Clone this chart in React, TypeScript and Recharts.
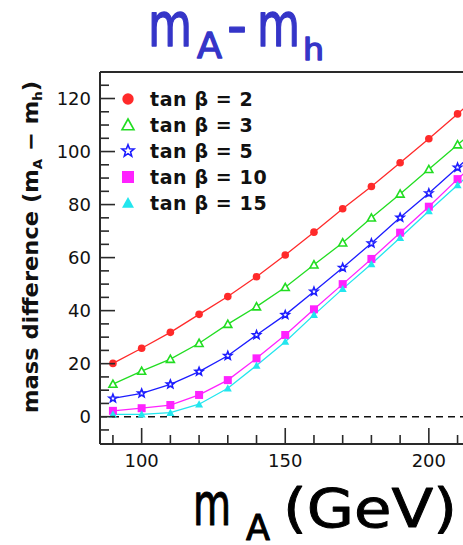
import React from "react";
import { LineChart, Line, XAxis, YAxis, ReferenceLine, Legend } from "recharts";

// m_A values (GeV)
const massA = [90, 100, 110, 120, 130, 140, 150, 160, 170, 180, 190, 200, 210, 220];

// mass difference m_A - m_h for each tan beta
const tanBeta2 = [20.1, 25.8, 31.8, 38.6, 45.3, 52.8, 61.0, 69.6, 78.4, 86.8, 95.8, 104.8, 114.2, 123.5];
const tanBeta3 = [12.3, 17.2, 21.7, 27.7, 34.9, 41.5, 48.8, 57.3, 65.6, 75.0, 84.0, 93.3, 102.6, 111.8];
const tanBeta5 = [6.9, 8.8, 12.2, 17.0, 23.0, 30.8, 38.4, 47.2, 56.2, 65.4, 75.1, 84.3, 94.0, 103.5];
const tanBeta10 = [2.2, 3.2, 4.4, 8.2, 13.8, 22.0, 30.8, 40.5, 50.0, 59.5, 69.4, 79.2, 89.6, 99.6];
const tanBeta15 = [0.9, 0.9, 1.5, 4.7, 10.7, 19.3, 28.3, 38.4, 48.2, 57.6, 67.5, 77.6, 87.4, 97.2];

const seriesNames = ["tan β = 2", "tan β = 3", "tan β = 5", "tan β = 10", "tan β = 15"];

const xTicks = [90, 100, 110, 120, 130, 140, 150, 160, 170, 180, 190, 200, 210, 220];
const yTicks = [-5, 0, 5, 10, 15, 20, 25, 30, 35, 40, 45, 50, 55, 60, 65, 70, 75, 80, 85, 90, 95, 100, 105, 110, 115, 120, 125];

const data = massA.map((m, i) => ({
  m,
  t2: tanBeta2[i],
  t3: tanBeta3[i],
  t5: tanBeta5[i],
  t10: tanBeta10[i],
  t15: tanBeta15[i],
}));

const series = [
  { key: "t2", color: "#ff2a2a", shape: "circle" },
  { key: "t3", color: "#22dd22", shape: "openTriangle" },
  { key: "t5", color: "#1c1cff", shape: "star" },
  { key: "t10", color: "#ff22ff", shape: "square" },
  { key: "t15", color: "#22e6ee", shape: "triangle" },
];

const axisColor = "#2a2a2a";
const tickFont = "'DejaVu Sans', sans-serif";
const titleBlue = "#3535c8";

function Marker({ shape, color, x, y, s }: { shape: string; color: string; x: number; y: number; s: number }) {
  const h = s / 2;
  if (shape === "circle") return <circle cx={x} cy={y} r={h * 0.95} fill={color} />;
  if (shape === "square") return <rect x={x - h} y={y - h} width={s} height={s} fill={color} />;
  if (shape === "triangle" || shape === "openTriangle") {
    const pts = `${x},${y - h} ${x + h},${y + h * 0.8} ${x - h},${y + h * 0.8}`;
    return shape === "triangle" ? (
      <polygon points={pts} fill={color} />
    ) : (
      <polygon points={pts} fill="#fff" stroke={color} strokeWidth={1.6} />
    );
  }
  // star
  const pts: string[] = [];
  for (let k = 0; k < 10; k++) {
    const r = k % 2 === 0 ? h * 1.05 : h * 0.45;
    const a = -Math.PI / 2 + (k * Math.PI) / 5;
    pts.push(`${x + r * Math.cos(a)},${y + r * Math.sin(a)}`);
  }
  return <polygon points={pts.join(" ")} fill="#fff" stroke={color} strokeWidth={1.6} />;
}

const makeDot = (shape: string, color: string) => (props: any) => {
  const { cx, cy, index } = props;
  if (cx == null || cy == null) return <g key={index} />;
  return <Marker key={index} shape={shape} color={color} x={cx} y={cy} s={8} />;
};

const XTick = (props: any) => {
  const { x, y, payload } = props;
  const major = payload.value % 50 === 0;
  return (
    <g>
      <line x1={x} x2={x} y1={y} y2={y - (major ? 16 : 9)} stroke={axisColor} strokeWidth={1.6} />
      {major && (
        <text x={x} y={y + 23} textAnchor="middle" fontFamily={tickFont} fontSize={18} fill="#111">
          {payload.value}
        </text>
      )}
    </g>
  );
};

const YTick = (props: any) => {
  const { x, y, payload } = props;
  const v = payload.value;
  const major = v % 20 === 0 && v >= 0;
  return (
    <g>
      <line x1={x} x2={x + (major ? 15 : 9)} y1={y} y2={y} stroke={axisColor} strokeWidth={1.6} />
      {major && (
        <text x={x - 9} y={y + 6.5} textAnchor="end" fontFamily={tickFont} fontSize={18} fill="#111">
          {v}
        </text>
      )}
    </g>
  );
};

const LegendBox = () => (
  <svg width={200} height={140}>
    {series.map((s, i) => {
      const cy = 14 + i * 26;
      return (
        <g key={s.key}>
          <Marker shape={s.shape} color={s.color} x={18} y={cy} s={12} />
          <text
            x={40}
            y={cy + 7}
            fontFamily={tickFont}
            fontWeight="bold"
            fontSize={19}
            letterSpacing={0.6}
            fill="#111"
          >
            {seriesNames[i]}
          </text>
        </g>
      );
    })}
  </svg>
);

// handwritten-looking label piece: regular weight with a stroke to thicken it
const Hand = ({ x, y, size, len, color, sw = 1.4, children }: any) => (
  <text
    x={x}
    y={y}
    fontFamily="'DejaVu Sans', sans-serif"
    fontSize={size}
    fill={color}
    stroke={color}
    strokeWidth={sw}
    strokeLinejoin="round"
    textLength={len}
    lengthAdjust="spacingAndGlyphs"
  >
    {children}
  </text>
);

export default function App() {
  return (
    <div style={{ position: "relative", width: 463, height: 545, overflow: "hidden", background: "#fff" }}>
      <style>{"body{margin:0}"}</style>
      <LineChart width={515} height={545} data={data} margin={{ top: 72, right: 0, left: 0, bottom: 0 }}>
        <XAxis
          dataKey="m"
          type="number"
          domain={[85.5, 230]}
          ticks={xTicks}
          interval={0}
          height={101}
          tickSize={0}
          tickMargin={0}
          tick={<XTick />}
          axisLine={{ stroke: axisColor, strokeWidth: 2 }}
          allowDataOverflow
        />
        <YAxis
          type="number"
          domain={[-10.3, 130]}
          ticks={yTicks}
          interval={0}
          width={100}
          tickSize={0}
          tickMargin={0}
          tick={<YTick />}
          axisLine={{ stroke: axisColor, strokeWidth: 2 }}
          allowDataOverflow
        />
        <ReferenceLine y={130} stroke={axisColor} strokeWidth={2} />
        <ReferenceLine y={0} stroke="#111" strokeWidth={1.5} strokeDasharray="7 5" />
        <Legend
          layout="vertical"
          align="center"
          verticalAlign="middle"
          content={<LegendBox />}
          wrapperStyle={{ position: "absolute", left: 110, top: 85, width: 200, height: 140 }}
        />
        {series.map((s) => (
          <Line
            key={s.key}
            dataKey={s.key}
            stroke={s.color}
            strokeWidth={1.3}
            dot={makeDot(s.shape, s.color)}
            isAnimationActive={false}
          />
        ))}
      </LineChart>
      <svg
        width={463}
        height={545}
        style={{ position: "absolute", left: 0, top: 0, pointerEvents: "none" }}
      >
        {/* title m_A - m_h */}
        <Hand x={148} y={46} size={60} len={44} color={titleBlue}>m</Hand>
        <Hand x={197} y={58} size={36} len={25} color={titleBlue}>A</Hand>
        <Hand x={227} y={46} size={60} len={20} color={titleBlue}>-</Hand>
        <Hand x={257} y={46} size={60} len={43} color={titleBlue}>m</Hand>
        <Hand x={303} y={60} size={30} len={21} color={titleBlue}>h</Hand>
        {/* x axis title m_A (GeV) */}
        <Hand x={193} y={525} size={58} len={38} color="#000" sw={1.1}>m</Hand>
        <Hand x={246} y={540} size={36} len={24} color="#000" sw={1.1}>A</Hand>
        <Hand x={283} y={527} size={54} len={174} color="#000" sw={0.9}>(GeV)</Hand>
        <g transform="translate(38,413) rotate(-90)">
          <text
            x={0}
            y={0}
            fontFamily="'DejaVu Sans', sans-serif"
            fontWeight="bold"
            fontSize={22}
            fill="#111"
            textLength={332}
            lengthAdjust="spacingAndGlyphs"
          >
            mass difference (m<tspan fontSize={13} dy={4}>A</tspan>
            <tspan dy={-4}> − m</tspan>
            <tspan fontSize={13} dy={4}>h</tspan>
            <tspan dy={-4}>)</tspan>
          </text>
        </g>
      </svg>
    </div>
  );
}
